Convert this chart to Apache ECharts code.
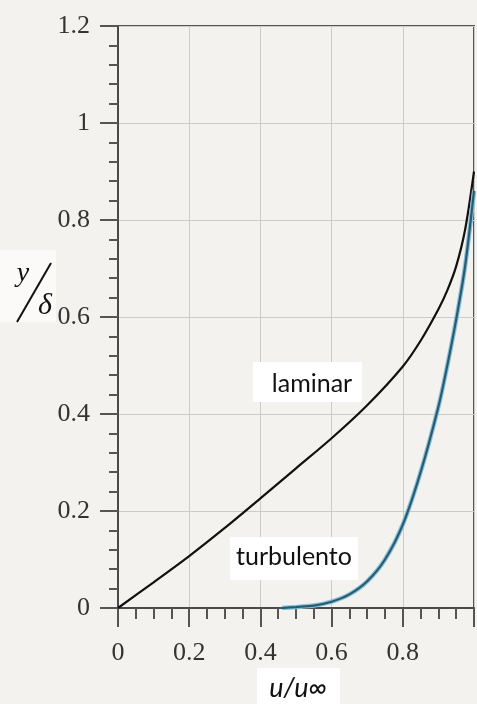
<!DOCTYPE html>
<html>
<head>
<meta charset="utf-8">
<script src="https://cdn.jsdelivr.net/npm/echarts@6/dist/echarts.min.js"></script>
<style>
html,body{margin:0;padding:0;background:#f4f2ef;}
#c{width:477px;height:704px;}
</style>
</head>
<body>
<div id="c"></div>
<script>
// Data
var laminarX = [0, 0.1, 0.2, 0.3, 0.4, 0.5, 0.6, 0.7, 0.8, 0.85, 0.9, 0.925, 0.95, 0.975, 1.0];
var laminarY = [0, 0.053, 0.107, 0.165, 0.226, 0.288, 0.35, 0.418, 0.498, 0.551, 0.616, 0.655, 0.705, 0.78, 0.9];
var turbX = [0.46, 0.5, 0.55, 0.6, 0.65, 0.7, 0.75, 0.8, 0.85, 0.9, 0.925, 0.95, 0.975, 1.0];
var turbY = [0, 0.002, 0.005, 0.013, 0.028, 0.055, 0.1, 0.172, 0.28, 0.415, 0.5, 0.595, 0.705, 0.86];
var xTicks = [0, 0.2, 0.4, 0.6, 0.8];
var yTicks = [0, 0.2, 0.4, 0.6, 0.8, 1, 1.2];
var labelLaminar = 'laminar';
var labelTurb = 'turbulento';
var xTitle = 'u/u\u221E';

function pairs(xs, ys){ return xs.map(function(x,i){ return [x, ys[i]]; }); }

var chart = echarts.init(document.getElementById('c'), null, {renderer:'canvas'});
var serif = '"Liberation Serif","DejaVu Serif",serif';
var option = {
  backgroundColor: '#f4f2ef',
  animation: false,
  grid: {left: 118, top: 26, width: 361, height: 582, show: true, borderColor: '#555', borderWidth: 2, backgroundColor: 'transparent'},
  xAxis: {
    type: 'value', min: 0, max: 1, interval: 0.2,
    axisLine: {show: true, lineStyle: {color: '#4a4a4a', width: 2}},
    axisTick: {show: true, length: 19, lineStyle: {color: '#555', width: 2}},
    minorTick: {show: true, splitNumber: 4, length: 11, lineStyle: {color: '#555', width: 2}},
    splitLine: {show: true, lineStyle: {color: '#cdcbc8', width: 1}},
    axisLabel: {
      margin: 32, color: '#333', fontFamily: serif, fontSize: 26,
      formatter: function(v){ var r = Math.round(v*10)/10; return xTicks.indexOf(r) >= 0 ? String(r) : ''; }
    }
  },
  yAxis: {
    type: 'value', min: 0, max: 1.2, interval: 0.2,
    axisLine: {show: true, lineStyle: {color: '#4a4a4a', width: 2}},
    axisTick: {show: true, length: 18, lineStyle: {color: '#555', width: 2}},
    minorTick: {show: true, splitNumber: 5, length: 9, lineStyle: {color: '#555', width: 2}},
    splitLine: {show: true, lineStyle: {color: '#cdcbc8', width: 1}},
    axisLabel: {
      margin: 28, color: '#333', fontFamily: serif, fontSize: 26,
      formatter: function(v){ var r = Math.round(v*10)/10; return yTicks.indexOf(r) >= 0 ? String(r) : ''; }
    }
  },
  series: [
    {type: 'line', data: pairs(laminarX, laminarY), smooth: 0.3, showSymbol: false,
     lineStyle: {color: '#111', width: 2.2}, z: 3},
    {type: 'line', data: pairs(turbX, turbY), smooth: 0.3, showSymbol: false,
     lineStyle: {color: '#86c1da', width: 4.5}, z: 4},
    {type: 'line', data: pairs(turbX, turbY), smooth: 0.3, showSymbol: false,
     lineStyle: {color: '#2b5a70', width: 2.2}, z: 5}
  ],
  graphic: [
    {type: 'rect', shape: {x: 253, y: 362, width: 109, height: 40}, style: {fill: '#ffffff'}, z: 10},
    {type: 'text', x: 312, y: 384, z: 11, style: {text: labelLaminar, fill: '#111', font: '25px Lato, "Open Sans", sans-serif', align: 'center', verticalAlign: 'middle'}},
    {type: 'rect', shape: {x: 230, y: 537, width: 128, height: 43}, style: {fill: '#ffffff'}, z: 10},
    {type: 'text', x: 294, y: 557, z: 11, style: {text: labelTurb, fill: '#111', font: '25px Lato, "Open Sans", sans-serif', align: 'center', verticalAlign: 'middle'}},
    {type: 'rect', shape: {x: 257, y: 668, width: 83, height: 36}, style: {fill: '#ffffff'}, z: 10},
    {type: 'text', x: 298, y: 688, z: 11, style: {text: xTitle, fill: '#111', font: 'italic 27px Lato, "Open Sans", sans-serif', align: 'center', verticalAlign: 'middle'}},
    {type: 'rect', shape: {x: 0, y: 250, width: 56, height: 72}, style: {fill: '#fbfaf8'}, z: 10},
    {type: 'text', x: 23, y: 274, z: 11, style: {text: 'y', fill: '#111', font: 'italic 28px "Liberation Serif", serif', align: 'center', verticalAlign: 'middle'}},
    {type: 'line', shape: {x1: 51, y1: 263, x2: 17, y2: 322}, style: {stroke: '#111', lineWidth: 2}, z: 11},
    {type: 'text', x: 45, y: 306, z: 11, style: {text: '\u03B4', fill: '#111', font: 'italic 30px "Liberation Serif", serif', align: 'center', verticalAlign: 'middle'}}
  ]
};
chart.setOption(option);
</script>
</body>
</html>
